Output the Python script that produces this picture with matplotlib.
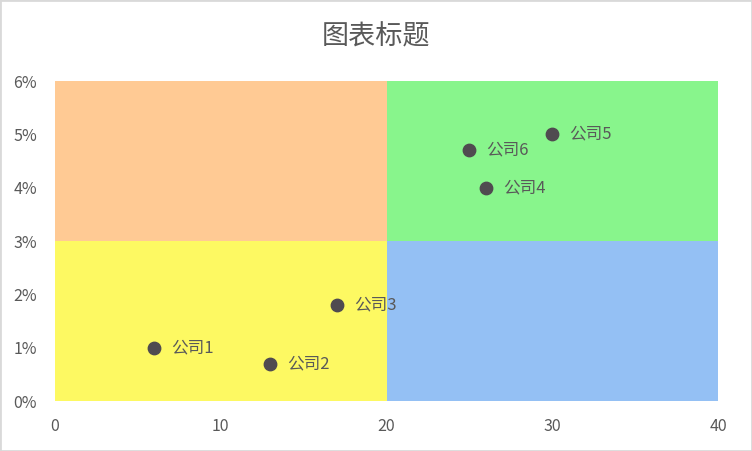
import matplotlib.pyplot as plt
from matplotlib.patches import Rectangle
from matplotlib.ticker import FuncFormatter

plt.rcParams['font.family'] = ['Noto Sans CJK SC', 'DejaVu Sans']

# company data
companies = ["公司1", "公司2", "公司3", "公司4", "公司5", "公司6"]
x_vals = [6, 13, 17, 26, 30, 25]
y_vals = [0.010, 0.007, 0.018, 0.040, 0.050, 0.047]

# quadrant split and ranges
x_split = 20
y_split = 0.03
x_range = (0, 40)
y_range = (0, 0.06)
quad_colors = {
    "top_left": "#FFCA94",
    "top_right": "#88F58C",
    "bottom_left": "#FDF962",
    "bottom_right": "#94C0F4",
}

x_ticks = [0, 10, 20, 30, 40]
y_ticks = [0, 0.01, 0.02, 0.03, 0.04, 0.05, 0.06]

grey = "#595959"

fig = plt.figure(figsize=(7.52, 4.51), dpi=100)
ax = fig.add_axes([55 / 752, 50 / 451, 663 / 752, 320 / 451])

quads = [
    (x_range[0], y_split, x_split - x_range[0], y_range[1] - y_split, quad_colors["top_left"]),
    (x_split, y_split, x_range[1] - x_split, y_range[1] - y_split, quad_colors["top_right"]),
    (x_range[0], y_range[0], x_split - x_range[0], y_split - y_range[0], quad_colors["bottom_left"]),
    (x_split, y_range[0], x_range[1] - x_split, y_split - y_range[0], quad_colors["bottom_right"]),
]
for x0, y0, w, h, c in quads:
    ax.add_patch(Rectangle((x0, y0), w, h, facecolor=c, edgecolor="none", zorder=1))

ax.scatter(x_vals, y_vals, s=80, color="#504B50", zorder=3)
for name, xv, yv in zip(companies, x_vals, y_vals):
    ax.annotate(name, (xv, yv), xytext=(17, 0), textcoords="offset pixels",
                va="center", ha="left", fontsize=12, color=grey, zorder=4)

ax.set_xlim(*x_range)
ax.set_ylim(*y_range)
ax.set_xticks(x_ticks)
ax.set_yticks(y_ticks)
ax.yaxis.set_major_formatter(FuncFormatter(lambda v, _: f"{v * 100:.0f}%"))
ax.tick_params(axis="both", colors=grey, labelsize=11.5, length=0)
ax.tick_params(axis="x", pad=12)
ax.tick_params(axis="y", pad=13)
for s in ax.spines.values():
    s.set_visible(False)

fig.text(0.5, 1 - 37 / 451, "图表标题", ha="center", va="center", fontsize=19.5, color=grey)

# outer border
fig.patches.append(Rectangle((0, 0), 1, 1, transform=fig.transFigure, fill=False,
                             edgecolor="#D9D9D9", linewidth=2))

fig.savefig("out.png", dpi=100)
